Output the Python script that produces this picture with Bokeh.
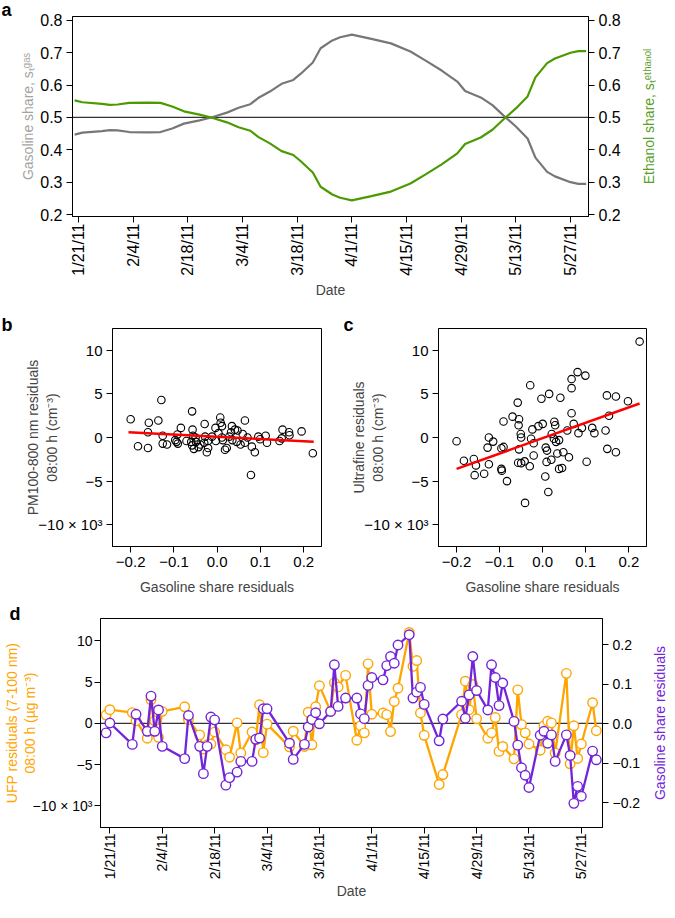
import numpy as np
import pandas as pd
from bokeh.plotting import figure
from bokeh.models import Range1d, LinearAxis, FixedTicker, Span, Title
from bokeh.layouts import column, row
from bokeh.embed import file_html
from bokeh.resources import INLINE

FONT = "Liberation Sans"
START = "2011-01-21"

# ---------------- data ----------------
tick_dates = ["2011-01-21", "2011-02-04", "2011-02-18", "2011-03-04", "2011-03-18",
              "2011-04-01", "2011-04-15", "2011-04-29", "2011-05-13", "2011-05-27"]
tick_labels = ["1/21/11", "2/4/11", "2/18/11", "3/4/11", "3/18/11",
               "4/1/11", "4/15/11", "4/29/11", "5/13/11", "5/27/11"]

share_dates = ["2011-01-20", "2011-01-22", "2011-01-27", "2011-01-29", "2011-01-31", "2011-02-03",
               "2011-02-08", "2011-02-11", "2011-02-14", "2011-02-17", "2011-02-21", "2011-02-24",
               "2011-02-28", "2011-03-03", "2011-03-06", "2011-03-08", "2011-03-11", "2011-03-14",
               "2011-03-17", "2011-03-19", "2011-03-22", "2011-03-24", "2011-03-27", "2011-03-29",
               "2011-04-01", "2011-04-06", "2011-04-11", "2011-04-16", "2011-04-20", "2011-04-24",
               "2011-04-28", "2011-04-30", "2011-05-04", "2011-05-07", "2011-05-10", "2011-05-13",
               "2011-05-16", "2011-05-18", "2011-05-21", "2011-05-23", "2011-05-27", "2011-05-29",
               "2011-05-31"]
gasoline_share = [0.447, 0.453, 0.458, 0.461, 0.460, 0.455, 0.454, 0.455, 0.466, 0.481, 0.491, 0.500,
                  0.515, 0.530, 0.541, 0.560, 0.580, 0.604, 0.616, 0.636, 0.670, 0.714, 0.738, 0.748,
                  0.756, 0.743, 0.729, 0.704, 0.675, 0.645, 0.611, 0.582, 0.562, 0.538, 0.504, 0.472,
                  0.435, 0.376, 0.332, 0.318, 0.300, 0.295, 0.295]
ethanol_share = [0.553, 0.547, 0.542, 0.539, 0.540, 0.545, 0.546, 0.545, 0.534, 0.519, 0.509, 0.500,
                 0.485, 0.470, 0.459, 0.440, 0.420, 0.396, 0.384, 0.364, 0.330, 0.286, 0.262, 0.252,
                 0.244, 0.257, 0.271, 0.296, 0.325, 0.355, 0.389, 0.418, 0.438, 0.462, 0.496, 0.528,
                 0.565, 0.624, 0.668, 0.682, 0.700, 0.705, 0.705]

b_x = [-0.200, -0.183, -0.158, -0.160, -0.160, -0.136, -0.129, -0.126, -0.126, -0.116,
       -0.097, -0.094, -0.092, -0.091, -0.084, -0.071, -0.060, -0.058, -0.057, -0.056,
       -0.058, -0.054, -0.050, -0.049, -0.043, -0.039, -0.030, -0.029, -0.028, -0.024,
       -0.021, -0.021, -0.012, -0.004, -0.003, 0.003, 0.007, 0.008, 0.011, 0.011,
       0.013, 0.018, 0.022, 0.028, 0.032, 0.034, 0.035, 0.041, 0.047, 0.045,
       0.054, 0.059, 0.064, 0.064, 0.070, 0.078, 0.080, 0.087, 0.095, 0.099,
       0.112, 0.115, 0.144, 0.149, 0.151, 0.166, 0.167, 0.195, 0.221]
b_y = [2.1, -1.0, 1.7, 0.6, -1.2, 1.95, 4.3, 0.2, -0.7, -0.8,
       -0.3, -0.5, 0.35, -0.7, 1.1, -0.4, -0.5, 3.0, 0.9, 0.2,
       -0.9, -1.3, 0.0, -0.5, -1.1, -0.8, -0.6, 1.55, 0.1, -1.7,
       -1.2, -0.4, 0.1, 1.1, -0.4, 0.5, 2.3, 1.7, 1.3, 0.0,
       -0.3, -1.4, -1.2, 0.1, 0.6, 1.3, -0.3, 0.9, 0.8, -0.5,
       -0.8, 0.4, 1.95, -0.6, 0.0, -4.3, -1.05, -1.7, 0.1, -0.2,
       0.2, -0.6, -0.4, -0.1, 0.9, 0.6, 0.25, 0.7, -1.8]
b_fit_x = [-0.205, 0.223]
b_fit_y = [0.6, -0.5]

c_x = [-0.200, -0.183, -0.160, -0.158, -0.155, -0.136, -0.128, -0.125, -0.125, -0.115,
       -0.096, -0.096, -0.095, -0.091, -0.091, -0.083, -0.070, -0.058, -0.055, -0.056,
       -0.055, -0.057, -0.051, -0.050, -0.050, -0.042, -0.041, -0.030, -0.029, -0.027,
       -0.024, -0.021, -0.021, -0.010, -0.003, 0.000, 0.006, 0.007, 0.010, 0.013,
       0.015, 0.009, 0.020, 0.021, 0.026, 0.027, 0.029, 0.031, 0.034, 0.038,
       0.038, 0.041, 0.045, 0.048, 0.057, 0.061, 0.067, 0.067, 0.067, 0.072,
       0.081, 0.083, 0.091, 0.099, 0.102, 0.115, 0.120, 0.146, 0.149, 0.150,
       0.154, 0.170, 0.170, 0.198, 0.225]
c_y = [-0.43, -2.66, -2.47, -4.32, -3.2, -4.16, -1.16, 0.0, -3.06, -0.47,
       -1.24, -3.6, -3.8, 1.83, -1.08, -5.0, 2.39, 4.0, 2.1, 1.4,
       -1.36, -2.9, 0.4, 0.0, -2.94, -2.74, -7.5, -3.3, 6.0, -0.15,
       0.93, -0.66, -2.07, 1.3, 4.44, 1.56, -4.48, -1.16, -1.5, -6.25,
       5.0, -2.8, -2.55, 0.4, -0.15, 1.8, 1.4, -0.5, -1.83, -0.3,
       -3.6, 4.56, -3.5, -1.7, 0.8, -2.26, 2.78, 5.66, 6.7, 1.56,
       7.5, 0.5, 1.1, 7.1, -2.78, 1.1, 0.5, 0.8, 4.83, -1.3,
       2.5, 4.7, -1.7, 4.16, 11.0]
c_fit_x = [-0.200, 0.225]
c_fit_y = [-3.6, 3.9]

d_dates = ["2011-01-20", "2011-01-21", "2011-01-27", "2011-01-28", "2011-01-31", "2011-02-01",
           "2011-02-02", "2011-02-03", "2011-02-04", "2011-02-10", "2011-02-11", "2011-02-14",
           "2011-02-15", "2011-02-16", "2011-02-17", "2011-02-18", "2011-02-21", "2011-02-22",
           "2011-02-24", "2011-02-25", "2011-02-28", "2011-03-01", "2011-03-02", "2011-03-03",
           "2011-03-04", "2011-03-10", "2011-03-11", "2011-03-14", "2011-03-15", "2011-03-16",
           "2011-03-17", "2011-03-18", "2011-03-21", "2011-03-22", "2011-03-23", "2011-03-25",
           "2011-03-28", "2011-03-29", "2011-03-30", "2011-03-31", "2011-04-01", "2011-04-04",
           "2011-04-05", "2011-04-06", "2011-04-07", "2011-04-08", "2011-04-11", "2011-04-12",
           "2011-04-13", "2011-04-14", "2011-04-15", "2011-04-19", "2011-04-20", "2011-04-25",
           "2011-04-26", "2011-04-27", "2011-04-28", "2011-04-29", "2011-05-02", "2011-05-03",
           "2011-05-04", "2011-05-05", "2011-05-06", "2011-05-09", "2011-05-10", "2011-05-11",
           "2011-05-12", "2011-05-13", "2011-05-16", "2011-05-17", "2011-05-18", "2011-05-19",
           "2011-05-20", "2011-05-23", "2011-05-24", "2011-05-25", "2011-05-26", "2011-05-27",
           "2011-05-30", "2011-05-31"]
ufp_resid = [1.0, 1.65, 1.3, 0.3, -1.8, 2.85, 0.3, -1.7, 1.45,
             2.0, 0.45, -1.4, -3.1, -2.6, -2.5, -1.05,
             -3.2, -4.1, 0.05, -3.6,
             -1.05, -2.0, 2.25, -3.55, -0.1,
             -2.85, -0.95,
             -2.8, 1.35, -2.6, 2.0, 4.55,
             1.45, 4.9, 4.4, 5.8,
             -2.05, -0.3, -1.15, 7.2, 1.1,
             1.25, 1.05, -1.0, 2.65, 4.25,
             11.0, 6.9, 7.6, 1.25, -1.45,
             -7.4, -6.2,
             1.05, 5.1, 1.65, 4.7, 0.55,
             -1.8, -1.15, 0.7, -3.4, -2.8,
             -4.3, 4.05, -0.15, -1.15, -2.5,
             -3.25, -0.3, 0.25, 0.05, -3.6,
             6.05, -4.9, -0.3, -4.25, -2.5,
             2.5, -0.9]
gas_resid = [-0.023, 0.002, -0.052, 0.024, -0.019, 0.070, -0.019, 0.035, -0.057,
             -0.088, 0.021, -0.057, -0.126, -0.057, 0.017, 0.010,
             -0.155, -0.136, -0.122, -0.095,
             -0.095, -0.039, -0.036, 0.038, 0.038,
             -0.049, -0.090,
             -0.052, -0.008, 0.011, 0.028, 0.000,
             0.031, 0.149, 0.044, 0.065,
             0.065, 0.025, 0.013, 0.097, 0.117,
             0.111, 0.147, 0.170, 0.153, 0.199,
             0.225, 0.065, 0.080, 0.092, 0.049,
             -0.043, 0.012,
             0.057, 0.014, 0.073, 0.170, 0.084,
             0.035, 0.149, 0.117, 0.046, 0.103,
             0.006, -0.054, -0.111, -0.130, -0.161,
             -0.029, -0.019, -0.049, -0.028, -0.095,
             -0.028, -0.080, -0.201, -0.158, -0.183,
             -0.069, -0.091]

resid_ticks = [-10, -5, 0, 5, 10]
resid_tick_labels = ["\u221210 \u00d7 10\u00b3", "\u22125", "0", "5", "10"]
share_ticks = [0.2, 0.3, 0.4, 0.5, 0.6, 0.7, 0.8]
gres_ticks = [-0.2, -0.1, 0.0, 0.1, 0.2]
gres_tick_labels = ["\u22120.2", "\u22120.1", "0.0", "0.1", "0.2"]


def to_days(ds):
    return list((pd.to_datetime(ds) - pd.Timestamp(START)).days)


GRAY = "#777777"
GREEN = "#4b9a00"
GREEN_TXT = "#58a026"
GRAY_TXT = "#a3a3a3"
ORANGE = "#ffa500"
PURPLE = "#7324d8"


def style_axis(ax, fs="14px"):
    ax.major_tick_out = 6
    ax.major_tick_in = 0
    ax.minor_tick_out = 0
    ax.minor_tick_in = 0
    ax.major_label_text_font = FONT
    ax.major_label_text_font_size = fs
    ax.major_label_text_color = "black"
    ax.axis_label_text_font = FONT
    ax.axis_label_text_font_size = "14px"
    ax.axis_label_text_font_style = "normal"
    ax.axis_line_color = "black"
    ax.major_tick_line_color = "black"
    ax.major_label_standoff = 4


def make_fig(w, h, bl, br, bt, bb, xr, yr):
    p = figure(width=w, height=h, min_border_left=bl, min_border_right=br,
               min_border_top=bt, min_border_bottom=bb,
               x_range=Range1d(*xr), y_range=Range1d(*yr),
               output_backend="svg", toolbar_location=None)
    p.xgrid.visible = False
    p.ygrid.visible = False
    p.outline_line_color = "black"
    p.outline_line_alpha = 1
    p.outline_line_width = 1
    p.background_fill_color = "white"
    p.border_fill_color = "white"
    return p


def side_label(w, h, bt, bb, text, color, standoff):
    """A narrow, empty figure whose only content is a vertical (bottom-to-top) axis title.
    Placed to the right of a panel, it carries that panel's right-hand title."""
    f = figure(width=w, height=h, min_border_left=w - 1, min_border_right=0,
               min_border_top=bt, min_border_bottom=bb,
               x_range=Range1d(0, 1), y_range=Range1d(0, 1),
               output_backend="svg", toolbar_location=None)
    f.outline_line_color = None
    f.xaxis.visible = False
    f.xgrid.visible = False
    f.ygrid.visible = False
    f.background_fill_color = "white"
    f.border_fill_color = "white"
    ax = f.yaxis[0]
    ax.ticker = FixedTicker(ticks=[])
    ax.major_tick_out = 0
    ax.major_tick_in = 0
    ax.minor_tick_out = 0
    ax.minor_tick_in = 0
    ax.axis_line_color = None
    ax.major_label_standoff = 0
    ax.axis_label = text
    ax.axis_label_text_font = FONT
    ax.axis_label_text_font_size = "14px"
    ax.axis_label_text_font_style = "normal"
    ax.axis_label_text_color = color
    ax.axis_label_standoff = standoff
    return f


def letter(p, text, offset, standoff):
    p.add_layout(Title(text=text, align="left", offset=offset, standoff=standoff,
                       text_font=FONT, text_font_size="18px", text_font_style="bold",
                       text_color="black"), "above")


tick_days = to_days(tick_dates)
date_overrides = {d: l for d, l in zip(tick_days, tick_labels)}

# ---------------- panel a ----------------
a_xr = (-1.54, 130.6)
a_yr = (0.194, 0.812)
pa = make_fig(624, 312, 72, 36, 7, 96, a_xr, a_yr)
pa.add_layout(Span(location=0.5, dimension="width", line_color="#333333", line_width=1.2,
                   level="underlay"))
sd = to_days(share_dates)
pa.line(sd, gasoline_share, line_color=GRAY, line_width=2.2)
pa.line(sd, ethanol_share, line_color=GREEN, line_width=2.2)
pa.xaxis.ticker = FixedTicker(ticks=tick_days)
pa.xaxis.major_label_overrides = date_overrides
pa.xaxis.major_label_orientation = np.pi / 2
pa.xaxis.axis_label = "Date"
pa.yaxis.ticker = FixedTicker(ticks=share_ticks)
pa.yaxis.axis_label = "Gasoline share, s\u209c\u1d4d\u1d43\u02e2"
style_axis(pa.xaxis[0], "16px")
style_axis(pa.yaxis[0], "16px")
pa.xaxis.major_label_standoff = 1
pa.xaxis.axis_label_standoff = 3
pa.yaxis.axis_label_standoff = 1
pa.yaxis.axis_label_text_color = GRAY_TXT
ra = LinearAxis(ticker=FixedTicker(ticks=share_ticks))
style_axis(ra, "16px")
pa.add_layout(ra, "right")
letter(pa, "a", -71, -6)
la = side_label(36, 312, 7, 96,
                "Ethanol share, s\u209c\u1d49\u1d57\u02b0\u1d43\u207f\u1d52\u02e1", GREEN_TXT, 3)

# ---------------- panels b and c ----------------
bc_xr = (-0.242, 0.241)
bc_yr = (-12.5, 12.5)
pb = make_fig(332, 288, 112, 11, 16, 54, bc_xr, bc_yr)
pb.scatter(b_x, b_y, marker="circle", size=7.5, fill_color=None, line_color="black", line_width=1.1)
pb.line(b_fit_x, b_fit_y, line_color="red", line_width=2.5)
pb.yaxis.axis_label = "PM100-800 nm residuals\n08:00 h (cm\u207b\u00b3)"
letter(pb, "b", -111, -13)

pc = make_fig(327, 288, 106, 13, 16, 54, bc_xr, bc_yr)
pc.scatter(c_x, c_y, marker="circle", size=7.5, fill_color=None, line_color="black", line_width=1.1)
pc.line(c_fit_x, c_fit_y, line_color="red", line_width=2.5)
pc.yaxis.axis_label = "Ultrafine residuals\n08:00 h (cm\u207b\u00b3)"
letter(pc, "c", -95, -13)

for p in (pb, pc):
    p.xaxis.ticker = FixedTicker(ticks=gres_ticks)
    p.xaxis.major_label_overrides = {t: l for t, l in zip(gres_ticks, gres_tick_labels)}
    p.xaxis.axis_label = "Gasoline share residuals"
    p.yaxis.ticker = FixedTicker(ticks=resid_ticks)
    p.yaxis.major_label_overrides = {t: l for t, l in zip(resid_ticks, resid_tick_labels)}
    style_axis(p.xaxis[0], "15px")
    style_axis(p.yaxis[0], "15px")
    p.xaxis.axis_label_standoff = 9
    p.yaxis.axis_label_standoff = -25
    p.yaxis.axis_label_text_line_height = 1.2

# ---------------- panel d ----------------
d_xr = (-2.5, 131.65)
d_yr = (-12.61, 12.69)
d_yr2 = (-0.262, 0.266)
pdd = make_fig(643, 302, 92, 38, 18, 74, d_xr, d_yr)
pdd.extra_y_ranges = {"gas": Range1d(*d_yr2)}
pdd.add_layout(Span(location=0, dimension="width", line_color="#333333", line_width=1.2,
                    level="underlay"))
dd = to_days(d_dates)
pdd.line(dd, ufp_resid, line_color=ORANGE, line_width=2.3)
pdd.scatter(dd, ufp_resid, marker="circle", size=9.5, fill_color="white", line_color=ORANGE,
            line_width=1.4)
pdd.line(dd, gas_resid, y_range_name="gas", line_color=PURPLE, line_width=2.3)
pdd.scatter(dd, gas_resid, y_range_name="gas", marker="circle", size=9.5, fill_color="white",
            line_color=PURPLE, line_width=1.4)
pdd.xaxis.ticker = FixedTicker(ticks=tick_days)
pdd.xaxis.major_label_overrides = date_overrides
pdd.xaxis.major_label_orientation = np.pi / 2
pdd.xaxis.axis_label = "Date"
pdd.yaxis.ticker = FixedTicker(ticks=resid_ticks)
pdd.yaxis.major_label_overrides = {t: l for t, l in zip(resid_ticks, resid_tick_labels)}
pdd.yaxis.axis_label = "UFP residuals (7-100 nm)\n08:00 h (\u00b5g m\u207b\u00b3)"
style_axis(pdd.xaxis[0])
style_axis(pdd.yaxis[0])
pdd.yaxis.axis_label_text_color = ORANGE
pdd.yaxis.axis_label_standoff = -8
pdd.yaxis.axis_label_text_line_height = 1.1
pdd.yaxis.major_label_standoff = 2
pdd.xaxis.major_label_standoff = 0
pdd.xaxis.axis_label_standoff = 1
rd = LinearAxis(y_range_name="gas", ticker=FixedTicker(ticks=gres_ticks))
rd.major_label_overrides = {t: l for t, l in zip(gres_ticks, gres_tick_labels)}
style_axis(rd)
pdd.add_layout(rd, "right")
letter(pdd, "d", -91, -11)
ld = side_label(23, 302, 18, 74, "Gasoline share residuals", PURPLE, -2)

layout = column(row(pa, la), row(pb, pc), row(pdd, ld))
open("out.html", "w").write(file_html(layout, INLINE))
